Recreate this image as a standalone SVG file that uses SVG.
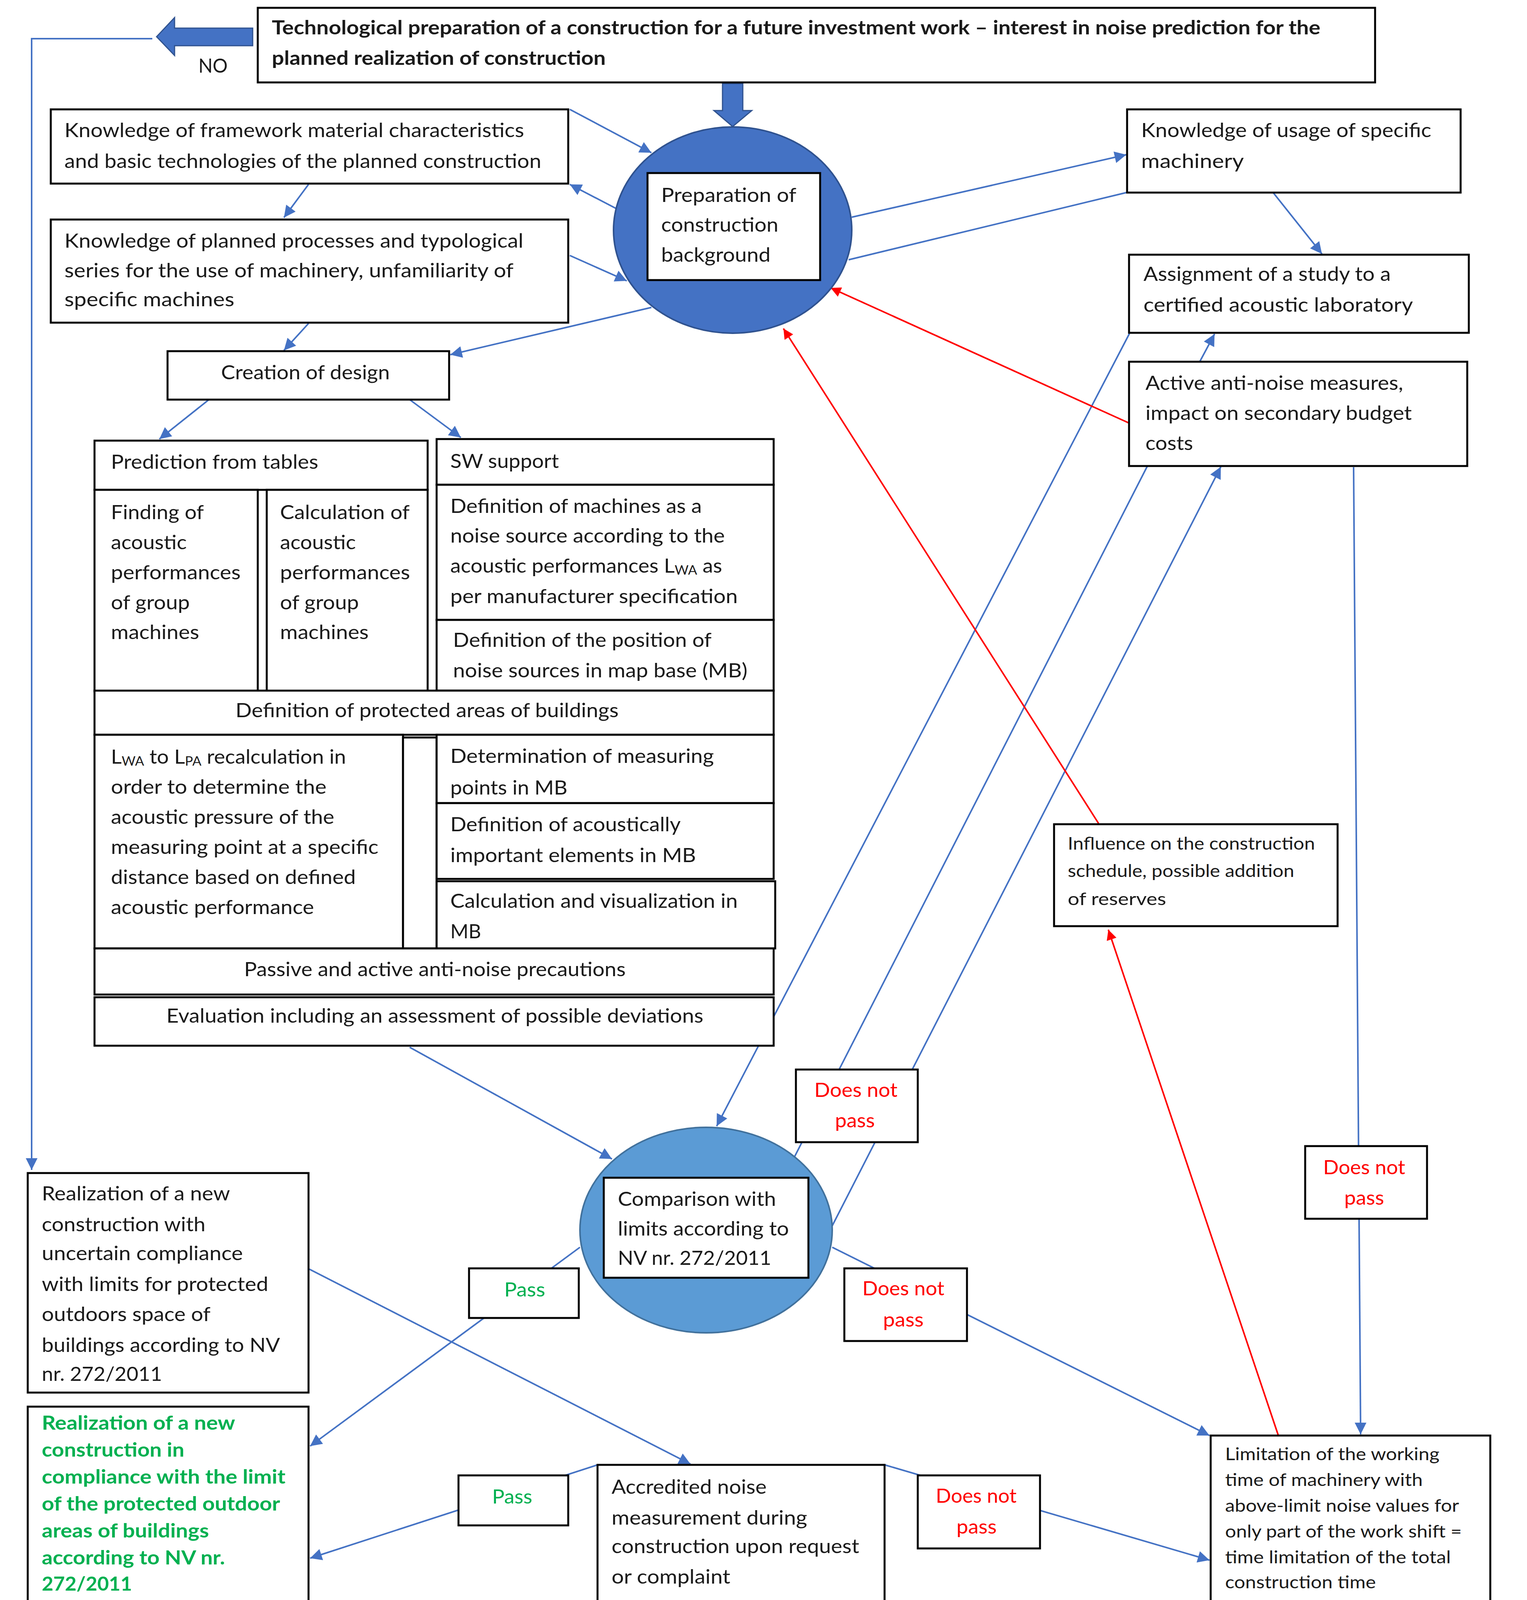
<svg xmlns="http://www.w3.org/2000/svg" width="3910" height="4215" viewBox="0 0 3910 4215">
<style>
.box{fill:#fff;stroke:#000;stroke-width:5}
.t{font-family:Lato,"Liberation Sans",sans-serif;font-size:50px;fill:#1a1a1a}
.tb{font-weight:bold}
.sm{font-size:44px}
.red{fill:#FF0000}
.grn{fill:#00B050;font-weight:bold}
.pgrn{fill:#00B050}
.conn{stroke:#4472C4;stroke-width:4;fill:none}
.rconn{stroke:#FF0000;stroke-width:4;fill:none}
.big{fill:#4472C4;stroke:#2F528F;stroke-width:3}
</style>
<defs>
<marker id="ab" viewBox="0 0 10 10" refX="10" refY="5" markerWidth="34" markerHeight="30" markerUnits="userSpaceOnUse" orient="auto"><path d="M0,0 L10,5 L0,10 z" fill="#4472C4"/></marker>
<marker id="ar" viewBox="0 0 10 10" refX="10" refY="5" markerWidth="30" markerHeight="26" markerUnits="userSpaceOnUse" orient="auto"><path d="M0,0 L10,5 L0,10 z" fill="#FF0000"/></marker>
</defs>
<rect width="3910" height="4215" fill="#fff"/>
<g id="connectors">
<polyline class="conn" points="390,99 81,99 81,2995" marker-end="url(#ab)"/>
<line class="conn" x1="790" y1="472" x2="727" y2="557" marker-end="url(#ab)"/>
<line class="conn" x1="790" y1="828" x2="727" y2="897" marker-end="url(#ab)"/>
<line class="conn" x1="1668" y1="787" x2="1153" y2="908" marker-end="url(#ab)"/>
<line class="conn" x1="535" y1="1023" x2="408" y2="1124" marker-end="url(#ab)"/>
<line class="conn" x1="1049" y1="1023" x2="1180" y2="1120" marker-end="url(#ab)"/>
<line class="conn" x1="1459" y1="280" x2="1668" y2="391" marker-end="url(#ab)"/>
<line class="conn" x1="1580" y1="535" x2="1459" y2="472" marker-end="url(#ab)"/>
<line class="conn" x1="1459" y1="654" x2="1605" y2="719" marker-end="url(#ab)"/>
<line class="conn" x1="2181" y1="556" x2="2884" y2="396" marker-end="url(#ab)"/>
<line class="conn" x1="2884" y1="493" x2="2173" y2="665"/>
<line class="conn" x1="3260" y1="493" x2="3385" y2="650" marker-end="url(#ab)"/>
<line class="conn" x1="3072" y1="926" x2="3110" y2="855" marker-end="url(#ab)"/>
<line class="conn" x1="2892" y1="854" x2="1835" y2="2883" marker-end="url(#ab)"/>
<line class="conn" x1="2938" y1="1193" x2="2027" y2="2976"/>
<line class="conn" x1="2131" y1="3138" x2="3126" y2="1195" marker-end="url(#ab)"/>
<line class="conn" x1="3466" y1="1196" x2="3484" y2="3672" marker-end="url(#ab)"/>
<line class="conn" x1="1049" y1="2681" x2="1567" y2="2967" marker-end="url(#ab)"/>
<line class="conn" x1="2131" y1="3193" x2="3097" y2="3675" marker-end="url(#ab)"/>
<line class="conn" x1="1485" y1="3193" x2="794" y2="3702" marker-end="url(#ab)"/>
<line class="conn" x1="792" y1="3249" x2="1768" y2="3748" marker-end="url(#ab)"/>
<line class="conn" x1="1530" y1="3750" x2="794" y2="3989" marker-end="url(#ab)"/>
<line class="conn" x1="2265" y1="3750" x2="3097" y2="3994" marker-end="url(#ab)"/>
<line class="conn" x1="3100" y1="4128" x2="794" y2="4147" marker-end="url(#ab)"/>
<line class="rconn" x1="2891" y1="1083" x2="2127" y2="737" marker-end="url(#ar)"/>
<line class="rconn" x1="2813" y1="2108" x2="2006" y2="841" marker-end="url(#ar)"/>
<line class="rconn" x1="3273" y1="3674" x2="2838" y2="2380" marker-end="url(#ar)"/>
<polygon class="big" points="647,72 447,72 447,45 401,94 447,142 447,117 647,117"/>
<polygon class="big" points="1850,214 1902,214 1902,283 1925,283 1876,324 1828,283 1850,283"/>
<text class="t" x="508" y="186" textLength="75" lengthAdjust="spacingAndGlyphs">NO</text>
</g>
<g id="top">
<rect class="box" x="660" y="20" width="2861" height="191"/>
<text class="t tb" x="696" y="88" textLength="2685" lengthAdjust="spacingAndGlyphs">Technological preparation of a construction for a future investment work – interest in noise prediction for the</text>
<text class="t tb" x="696" y="166" textLength="855" lengthAdjust="spacingAndGlyphs">planned realization of construction</text>
</g>
<g id="k1">
<rect class="box" x="130" y="280" width="1325" height="190"/>
<text class="t" x="165" y="351" textLength="1177" lengthAdjust="spacingAndGlyphs">Knowledge of framework material characteristics</text>
<text class="t" x="165" y="430" textLength="1221" lengthAdjust="spacingAndGlyphs">and basic technologies of the planned construction</text>
</g>
<g id="k2">
<rect class="box" x="130" y="562" width="1325" height="264"/>
<text class="t" x="165" y="634" textLength="1175" lengthAdjust="spacingAndGlyphs">Knowledge of planned processes and typological</text>
<text class="t" x="165" y="710" textLength="1150" lengthAdjust="spacingAndGlyphs">series for the use of machinery, unfamiliarity of</text>
<text class="t" x="165" y="784" textLength="435" lengthAdjust="spacingAndGlyphs">specific machines</text>
</g>
<g id="creation">
<rect class="box" x="429" y="899" width="721" height="124"/>
<text class="t" x="566" y="971" textLength="432" lengthAdjust="spacingAndGlyphs">Creation of design</text>
</g>
<g id="prep">
<ellipse cx="1876" cy="589" rx="305" ry="264" fill="#4472C4" stroke="#2F528F" stroke-width="4"/>
<rect class="box" x="1658" y="443" width="442" height="274"/>
<text class="t" x="1693" y="517" textLength="346" lengthAdjust="spacingAndGlyphs">Preparation of</text>
<text class="t" x="1693" y="593" textLength="300" lengthAdjust="spacingAndGlyphs">construction</text>
<text class="t" x="1693" y="670" textLength="280" lengthAdjust="spacingAndGlyphs">background</text>
</g>
<g id="k3">
<rect class="box" x="2886" y="280" width="854" height="213"/>
<text class="t" x="2922" y="351" textLength="743" lengthAdjust="spacingAndGlyphs">Knowledge of usage of specific</text>
<text class="t" x="2922" y="430" textLength="263" lengthAdjust="spacingAndGlyphs">machinery</text>
</g>
<g id="assign">
<rect class="box" x="2891" y="652" width="870" height="200"/>
<text class="t" x="2928" y="719" textLength="633" lengthAdjust="spacingAndGlyphs">Assignment of a study to a</text>
<text class="t" x="2928" y="798" textLength="690" lengthAdjust="spacingAndGlyphs">certified acoustic laboratory</text>
</g>
<g id="active">
<rect class="box" x="2891" y="926" width="866" height="267"/>
<text class="t" x="2933" y="998" textLength="660" lengthAdjust="spacingAndGlyphs">Active anti-noise measures,</text>
<text class="t" x="2933" y="1075" textLength="682" lengthAdjust="spacingAndGlyphs">impact on secondary budget</text>
<text class="t" x="2933" y="1152" textLength="122" lengthAdjust="spacingAndGlyphs">costs</text>
</g>
<g id="table">
<rect class="box" x="242" y="1128" width="853" height="126"/>
<text class="t" x="284" y="1200" textLength="531" lengthAdjust="spacingAndGlyphs">Prediction from tables</text>
<rect class="box" x="242" y="1254" width="418" height="516"/>
<text class="t" x="284" y="1329" textLength="238" lengthAdjust="spacingAndGlyphs">Finding of</text>
<text class="t" x="284" y="1406" textLength="194" lengthAdjust="spacingAndGlyphs">acoustic</text>
<text class="t" x="284" y="1483" textLength="332" lengthAdjust="spacingAndGlyphs">performances</text>
<text class="t" x="284" y="1560" textLength="202" lengthAdjust="spacingAndGlyphs">of group</text>
<text class="t" x="284" y="1636" textLength="226" lengthAdjust="spacingAndGlyphs">machines</text>
<rect class="box" x="683" y="1254" width="412" height="516"/>
<text class="t" x="717" y="1329" textLength="332" lengthAdjust="spacingAndGlyphs">Calculation of</text>
<text class="t" x="717" y="1406" textLength="194" lengthAdjust="spacingAndGlyphs">acoustic</text>
<text class="t" x="717" y="1483" textLength="333" lengthAdjust="spacingAndGlyphs">performances</text>
<text class="t" x="717" y="1560" textLength="202" lengthAdjust="spacingAndGlyphs">of group</text>
<text class="t" x="717" y="1636" textLength="227" lengthAdjust="spacingAndGlyphs">machines</text>
<rect class="box" x="1118" y="1124" width="863" height="117"/>
<text class="t" x="1153" y="1198" textLength="278" lengthAdjust="spacingAndGlyphs">SW support</text>
<rect class="box" x="1118" y="1241" width="863" height="346"/>
<text class="t" x="1153" y="1313" textLength="644" lengthAdjust="spacingAndGlyphs">Definition of machines as a</text>
<text class="t" x="1153" y="1389" textLength="703" lengthAdjust="spacingAndGlyphs">noise source according to the</text>
<text class="t" x="1153" y="1466" textLength="696" lengthAdjust="spacingAndGlyphs">acoustic performances L<tspan dy="5" font-size="32">WA</tspan><tspan dy="-5"> as</tspan></text>
<text class="t" x="1153" y="1544" textLength="736" lengthAdjust="spacingAndGlyphs">per manufacturer specification</text>
<rect class="box" x="1118" y="1587" width="863" height="181"/>
<text class="t" x="1160" y="1656" textLength="662" lengthAdjust="spacingAndGlyphs">Definition of the position of</text>
<text class="t" x="1160" y="1734" textLength="754" lengthAdjust="spacingAndGlyphs">noise sources in map base (MB)</text>
<rect class="box" x="242" y="1768" width="1739" height="113"/>
<text class="t" x="603" y="1836" textLength="981" lengthAdjust="spacingAndGlyphs">Definition of protected areas of buildings</text>
<rect class="box" x="242" y="1881" width="790" height="547"/>
<text class="t" x="284" y="1955" textLength="602" lengthAdjust="spacingAndGlyphs">L<tspan dy="5" font-size="32">WA</tspan><tspan dy="-5"> to L</tspan><tspan dy="5" font-size="32">PA</tspan><tspan dy="-5"> recalculation in</tspan></text>
<text class="t" x="284" y="2032" textLength="552" lengthAdjust="spacingAndGlyphs">order to determine the</text>
<text class="t" x="284" y="2109" textLength="572" lengthAdjust="spacingAndGlyphs">acoustic pressure of the</text>
<text class="t" x="284" y="2186" textLength="685" lengthAdjust="spacingAndGlyphs">measuring point at a specific</text>
<text class="t" x="284" y="2263" textLength="627" lengthAdjust="spacingAndGlyphs">distance based on defined</text>
<text class="t" x="284" y="2340" textLength="520" lengthAdjust="spacingAndGlyphs">acoustic performance</text>
<rect class="box" x="1032" y="1888" width="86" height="540"/>
<rect class="box" x="1118" y="1881" width="863" height="175"/>
<text class="t" x="1153" y="1953" textLength="675" lengthAdjust="spacingAndGlyphs">Determination of measuring</text>
<text class="t" x="1153" y="2034" textLength="300" lengthAdjust="spacingAndGlyphs">points in MB</text>
<rect class="box" x="1118" y="2056" width="863" height="194"/>
<text class="t" x="1153" y="2128" textLength="590" lengthAdjust="spacingAndGlyphs">Definition of acoustically</text>
<text class="t" x="1153" y="2207" textLength="629" lengthAdjust="spacingAndGlyphs">important elements in MB</text>
<rect class="box" x="1118" y="2256" width="867" height="172"/>
<text class="t" x="1153" y="2324" textLength="736" lengthAdjust="spacingAndGlyphs">Calculation and visualization in</text>
<text class="t" x="1153" y="2402" textLength="79" lengthAdjust="spacingAndGlyphs">MB</text>
<rect class="box" x="242" y="2428" width="1739" height="118"/>
<text class="t" x="625" y="2499" textLength="977" lengthAdjust="spacingAndGlyphs">Passive and active anti-noise precautions</text>
<rect class="box" x="242" y="2553" width="1739" height="124"/>
<text class="t" x="426" y="2618" textLength="1375" lengthAdjust="spacingAndGlyphs">Evaluation including an assessment of possible deviations</text>
</g>
<g id="influence">
<rect class="box" x="2699" y="2110" width="726" height="261"/>
<text class="t sm" x="2734" y="2175" textLength="633" lengthAdjust="spacingAndGlyphs">Influence on the construction</text>
<text class="t sm" x="2734" y="2245" textLength="580" lengthAdjust="spacingAndGlyphs">schedule, possible addition</text>
<text class="t sm" x="2734" y="2317" textLength="252" lengthAdjust="spacingAndGlyphs">of reserves</text>
</g>
<g id="dnp1">
<rect class="box" x="2038" y="2738" width="312" height="186"/>
<text class="t red" x="2085" y="2808" textLength="213" lengthAdjust="spacingAndGlyphs">Does not</text>
<text class="t red" x="2138" y="2886" textLength="102" lengthAdjust="spacingAndGlyphs">pass</text>
</g>
<g id="dnp3">
<rect class="box" x="3342" y="2934" width="312" height="186"/>
<text class="t red" x="3388" y="3006" textLength="210" lengthAdjust="spacingAndGlyphs">Does not</text>
<text class="t red" x="3442" y="3084" textLength="102" lengthAdjust="spacingAndGlyphs">pass</text>
</g>
<g id="comparison">
<ellipse cx="1808" cy="3149" rx="323" ry="263" fill="#5B9BD5" stroke="#41719C" stroke-width="4"/>
<rect class="box" x="1546" y="3015" width="524" height="256"/>
<text class="t" x="1582" y="3087" textLength="405" lengthAdjust="spacingAndGlyphs">Comparison with</text>
<text class="t" x="1582" y="3163" textLength="438" lengthAdjust="spacingAndGlyphs">limits according to</text>
<text class="t" x="1582" y="3238" textLength="393" lengthAdjust="spacingAndGlyphs">NV nr. 272/2011</text>
</g>
<g id="dnp2">
<rect class="box" x="2162" y="3247" width="314" height="186"/>
<text class="t red" x="2208" y="3316" textLength="210" lengthAdjust="spacingAndGlyphs">Does not</text>
<text class="t red" x="2261" y="3396" textLength="104" lengthAdjust="spacingAndGlyphs">pass</text>
</g>
<g id="pass1">
<rect class="box" x="1201" y="3247" width="281" height="127"/>
<text class="t pgrn" x="1291" y="3319" textLength="105" lengthAdjust="spacingAndGlyphs">Pass</text>
</g>
<g id="uncertain">
<rect class="box" x="71" y="3003" width="719" height="562"/>
<text class="t" x="107" y="3073" textLength="482" lengthAdjust="spacingAndGlyphs">Realization of a new</text>
<text class="t" x="107" y="3152" textLength="419" lengthAdjust="spacingAndGlyphs">construction with</text>
<text class="t" x="107" y="3226" textLength="515" lengthAdjust="spacingAndGlyphs">uncertain compliance</text>
<text class="t" x="107" y="3305" textLength="580" lengthAdjust="spacingAndGlyphs">with limits for protected</text>
<text class="t" x="107" y="3382" textLength="432" lengthAdjust="spacingAndGlyphs">outdoors space of</text>
<text class="t" x="107" y="3461" textLength="610" lengthAdjust="spacingAndGlyphs">buildings according to NV</text>
<text class="t" x="107" y="3535" textLength="308" lengthAdjust="spacingAndGlyphs">nr. 272/2011</text>
</g>
<g id="compliant">
<rect class="box" x="71" y="3601" width="719" height="563"/>
<text class="t grn" x="107" y="3660" textLength="495" lengthAdjust="spacingAndGlyphs">Realization of a new</text>
<text class="t grn" x="107" y="3729" textLength="365" lengthAdjust="spacingAndGlyphs">construction in</text>
<text class="t grn" x="107" y="3798" textLength="624" lengthAdjust="spacingAndGlyphs">compliance with the limit</text>
<text class="t grn" x="107" y="3867" textLength="610" lengthAdjust="spacingAndGlyphs">of the protected outdoor</text>
<text class="t grn" x="107" y="3936" textLength="428" lengthAdjust="spacingAndGlyphs">areas of buildings</text>
<text class="t grn" x="107" y="4005" textLength="469" lengthAdjust="spacingAndGlyphs">according to NV nr.</text>
<text class="t grn" x="107" y="4072" textLength="231" lengthAdjust="spacingAndGlyphs">272/2011</text>
</g>
<g id="pass2">
<rect class="box" x="1174" y="3777" width="281" height="128"/>
<text class="t pgrn" x="1260" y="3849" textLength="103" lengthAdjust="spacingAndGlyphs">Pass</text>
</g>
<g id="accredited">
<rect class="box" x="1530" y="3750" width="735" height="356"/>
<text class="t" x="1566" y="3824" textLength="397" lengthAdjust="spacingAndGlyphs">Accredited noise</text>
<text class="t" x="1566" y="3903" textLength="501" lengthAdjust="spacingAndGlyphs">measurement during</text>
<text class="t" x="1566" y="3976" textLength="634" lengthAdjust="spacingAndGlyphs">construction upon request</text>
<text class="t" x="1566" y="4054" textLength="304" lengthAdjust="spacingAndGlyphs">or complaint</text>
</g>
<g id="dnp4">
<rect class="box" x="2350" y="3777" width="313" height="187"/>
<text class="t red" x="2396" y="3847" textLength="207" lengthAdjust="spacingAndGlyphs">Does not</text>
<text class="t red" x="2449" y="3926" textLength="103" lengthAdjust="spacingAndGlyphs">pass</text>
</g>
<g id="limitation">
<rect class="box" x="3100" y="3675" width="716" height="453"/>
<text class="t sm" x="3137" y="3738" textLength="549" lengthAdjust="spacingAndGlyphs">Limitation of the working</text>
<text class="t sm" x="3137" y="3804" textLength="506" lengthAdjust="spacingAndGlyphs">time of machinery with</text>
<text class="t sm" x="3137" y="3870" textLength="599" lengthAdjust="spacingAndGlyphs">above-limit noise values for</text>
<text class="t sm" x="3137" y="3936" textLength="606" lengthAdjust="spacingAndGlyphs">only part of the work shift =</text>
<text class="t sm" x="3137" y="4002" textLength="578" lengthAdjust="spacingAndGlyphs">time limitation of the total</text>
<text class="t sm" x="3137" y="4066" textLength="386" lengthAdjust="spacingAndGlyphs">construction time</text>
</g>
<line x1="25" y1="4185" x2="3882" y2="4185" stroke="#C8C8C8" stroke-width="5"/>
</svg>
